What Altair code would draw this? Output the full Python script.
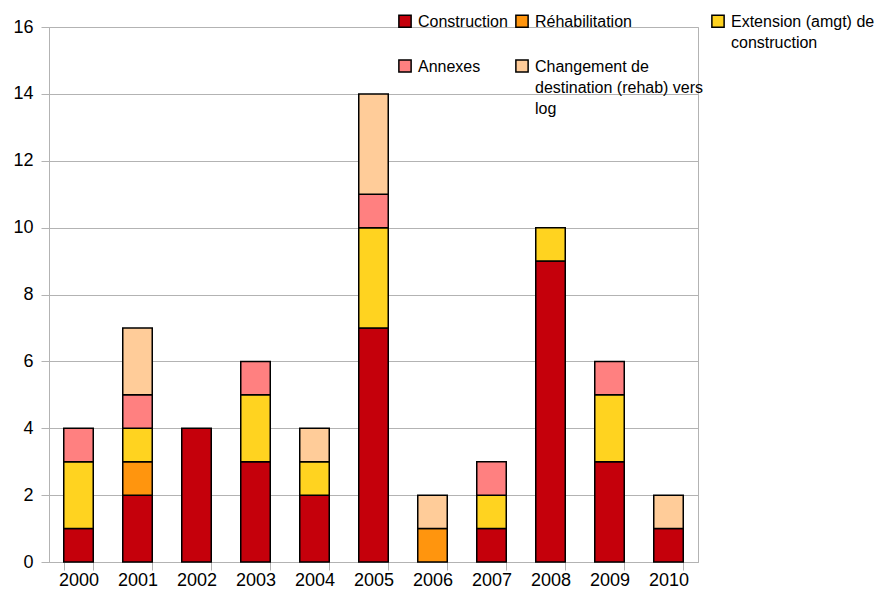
import altair as alt
import pandas as pd

years = ["2000", "2001", "2002", "2003", "2004", "2005", "2006", "2007", "2008", "2009", "2010"]
categories = [
    "Construction",
    "Réhabilitation",
    "Extension (amgt) de construction",
    "Annexes",
    "Changement de destination (rehab) vers log",
]
colors = ["#c5000b", "#ff950e", "#ffd320", "#ff8080", "#ffcc99"]

construction = [1, 2, 4, 3, 2, 7, 0, 1, 9, 3, 1]
rehabilitation = [0, 1, 0, 0, 0, 0, 1, 0, 0, 0, 0]
extension = [2, 1, 0, 2, 1, 3, 0, 1, 1, 2, 0]
annexes = [1, 1, 0, 1, 0, 1, 0, 1, 0, 1, 0]
changement = [0, 2, 0, 0, 1, 3, 1, 0, 0, 0, 1]

series = [construction, rehabilitation, extension, annexes, changement]
rows = []
for ci, (cat, vals) in enumerate(zip(categories, series)):
    for y, v in zip(years, vals):
        if v > 0:
            rows.append({"year": y, "cat": cat, "value": v, "order": ci})
df = pd.DataFrame(rows)

# legend labels wrapped as in the reference; every label of a row gets the same
# number of lines so that the entries of a row stay top-aligned
label_expr = (
    "datum.label == 'Construction' ? ['Construction', ''] : "
    "datum.label == 'Réhabilitation' ? ['Réhabilitation', ''] : "
    "datum.label == 'Extension (amgt) de construction' ? ['Extension (amgt) de', 'construction'] : "
    "datum.label == 'Annexes' ? ['Annexes', '', ''] : "
    "datum.label == 'Changement de destination (rehab) vers log' ? ['Changement de', 'destination (rehab) vers', 'log'] : "
    "datum.label"
)

FONT = "Liberation Sans"
GRID = "#b3b3b3"
DY = 5.5

chart = (
    alt.Chart(df)
    .mark_bar(stroke="black", strokeWidth=1.5)
    .encode(
        x=alt.X(
            "year:N",
            sort=years,
            title=None,
            scale=alt.Scale(paddingInner=0.5, paddingOuter=0.25),
            axis=alt.Axis(
                labelAngle=0,
                tickBand="extent",
                tickSize=8,
                labelPadding=-4.5,
                labelFontSize=18,
                labelFont=FONT,
                labelColor="black",
                domainColor=GRID,
                tickColor=GRID,
                grid=False,
            ),
        ),
        y=alt.Y(
            "value:Q",
            stack="zero",
            title=None,
            scale=alt.Scale(domain=[0, 16], nice=False),
            axis=alt.Axis(
                values=list(range(0, 17, 2)),
                tickSize=8,
                labelPadding=8,
                labelOffset=-DY,
                labelFontSize=18,
                labelFont=FONT,
                labelColor="black",
                domainColor=GRID,
                tickColor=GRID,
                gridColor=GRID,
                grid=True,
            ),
        ),
        color=alt.Color(
            "cat:N",
            title=None,
            scale=alt.Scale(domain=categories, range=colors),
            legend=alt.Legend(
                orient="none",
                legendX=348,
                legendY=-14,
                direction="horizontal",
                columns=3,
                columnPadding=4,
                rowPadding=5,
                padding=0,
                symbolType="square",
                symbolSize=150,
                symbolStrokeColor="black",
                symbolStrokeWidth=1.5,
                symbolOpacity=1,
                labelFont=FONT,
                labelFontSize=16,
                labelColor="black",
                labelLimit=400,
                labelOffset=5,
                labelBaseline="alphabetic",
                labelExpr=label_expr,
            ),
        ),
        order=alt.Order("order:Q", sort="ascending"),
    )
    .properties(
        width=649,
        height=535,
        autosize=alt.AutoSizeParams(type="none"),
        padding={"left": 41, "top": 19, "right": 178, "bottom": 27},
    )
    .configure(
        view={"stroke": GRID, "strokeWidth": 1},
        style={"guide-label": {"lineHeight": 21, "dy": DY}},
    )
)

chart.save("out.html", embed_options={"renderer": "svg", "actions": False})
